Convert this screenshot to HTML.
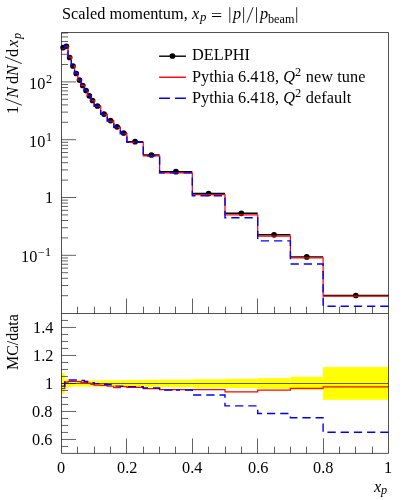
<!DOCTYPE html>
<html><head><meta charset="utf-8"><title>Scaled momentum</title>
<style>
html,body{margin:0;padding:0;background:#fff;}
body{width:406px;height:500px;position:relative;overflow:hidden;font-family:"Liberation Serif",serif;color:#000;}
.t{will-change:transform;position:absolute;white-space:nowrap;font-size:16.3px;line-height:1;}
.i{font-style:italic;}
sub.s,sup.s{font-size:12.3px;margin-right:0.5px;line-height:0;position:relative;vertical-align:baseline;}
sub.s{top:2.4px;} sup.s{top:-5.8px;}
.e{font-size:12.2px;}
.r{text-align:right;}
.rot{transform-origin:0 0;transform:rotate(-90deg);}
</style></head><body>
<svg width="406" height="500" viewBox="0 0 406 500" style="position:absolute;left:0;top:0">
<rect x="0" y="0" width="406" height="500" fill="#fff"/>
<rect x="61.5" y="372.95" width="3.27" height="21" fill="#ffff00"/>
<rect x="64.77" y="379.25" width="3.27" height="8.4" fill="#ffff00"/>
<rect x="68.04" y="379.95" width="3.27" height="7" fill="#ffff00"/>
<rect x="71.31" y="380.23" width="3.27" height="6.44" fill="#ffff00"/>
<rect x="74.58" y="380.37" width="3.27" height="6.16" fill="#ffff00"/>
<rect x="77.85" y="380.37" width="3.27" height="6.16" fill="#ffff00"/>
<rect x="81.12" y="380.37" width="3.27" height="6.16" fill="#ffff00"/>
<rect x="84.39" y="380.37" width="3.27" height="6.16" fill="#ffff00"/>
<rect x="87.66" y="380.37" width="3.27" height="6.16" fill="#ffff00"/>
<rect x="90.93" y="380.37" width="3.27" height="6.16" fill="#ffff00"/>
<rect x="94.2" y="380.37" width="6.54" height="6.16" fill="#ffff00"/>
<rect x="100.74" y="380.23" width="6.54" height="6.44" fill="#ffff00"/>
<rect x="107.28" y="380.23" width="6.54" height="6.44" fill="#ffff00"/>
<rect x="113.82" y="380.23" width="6.54" height="6.44" fill="#ffff00"/>
<rect x="120.36" y="380.09" width="6.54" height="6.72" fill="#ffff00"/>
<rect x="126.9" y="379.95" width="16.35" height="7" fill="#ffff00"/>
<rect x="143.25" y="379.81" width="16.35" height="7.28" fill="#ffff00"/>
<rect x="159.6" y="379.67" width="32.7" height="7.56" fill="#ffff00"/>
<rect x="192.3" y="379.25" width="32.7" height="8.4" fill="#ffff00"/>
<rect x="225" y="378.83" width="32.7" height="9.24" fill="#ffff00"/>
<rect x="257.7" y="378.13" width="32.7" height="10.64" fill="#ffff00"/>
<rect x="290.4" y="376.87" width="32.7" height="13.16" fill="#ffff00"/>
<rect x="323.1" y="367.07" width="65.4" height="32.76" fill="#ffff00"/>
<line x1="61.5" y1="383.5" x2="388.5" y2="383.5" stroke="#000" stroke-width="0.62"/>
<path d="M77.5 313.5 V306.7 M94.5 313.5 V306.7 M110.5 313.5 V306.7 M126.5 313.5 V298.5 M143.5 313.5 V306.7 M159.5 313.5 V306.7 M175.5 313.5 V306.7 M192.5 313.5 V298.5 M208.5 313.5 V306.7 M225.5 313.5 V306.7 M241.5 313.5 V306.7 M257.5 313.5 V298.5 M274.5 313.5 V306.7 M290.5 313.5 V306.7 M306.5 313.5 V306.7 M323.5 313.5 V298.5 M339.5 313.5 V306.7 M355.5 313.5 V306.7 M372.5 313.5 V306.7 M77.5 453.4 V446.6 M94.5 453.4 V446.6 M110.5 453.4 V446.6 M126.5 453.4 V438.4 M143.5 453.4 V446.6 M159.5 453.4 V446.6 M175.5 453.4 V446.6 M192.5 453.4 V438.4 M208.5 453.4 V446.6 M225.5 453.4 V446.6 M241.5 453.4 V446.6 M257.5 453.4 V438.4 M274.5 453.4 V446.6 M290.5 453.4 V446.6 M306.5 453.4 V446.6 M323.5 453.4 V438.4 M339.5 453.4 V446.6 M355.5 453.4 V446.6 M372.5 453.4 V446.6 M61.5 295.7 H68 M61.5 285.52 H68 M61.5 278.3 H68 M61.5 272.7 H68 M61.5 268.12 H68 M61.5 264.25 H68 M61.5 260.9 H68 M61.5 257.94 H68 M61.5 255.3 H76 M61.5 237.9 H68 M61.5 227.72 H68 M61.5 220.5 H68 M61.5 214.9 H68 M61.5 210.32 H68 M61.5 206.45 H68 M61.5 203.1 H68 M61.5 200.14 H68 M61.5 197.5 H76 M61.5 180.1 H68 M61.5 169.92 H68 M61.5 162.7 H68 M61.5 157.1 H68 M61.5 152.52 H68 M61.5 148.65 H68 M61.5 145.3 H68 M61.5 142.34 H68 M61.5 139.7 H76 M61.5 122.3 H68 M61.5 112.12 H68 M61.5 104.9 H68 M61.5 99.3 H68 M61.5 94.72 H68 M61.5 90.85 H68 M61.5 87.5 H68 M61.5 84.54 H68 M61.5 81.9 H76 M61.5 64.5 H68 M61.5 54.32 H68 M61.5 47.1 H68 M61.5 41.5 H68 M61.5 36.92 H68 M61.5 33.05 H68 M61.5 446.45 H68 M61.5 439.45 H76 M61.5 432.45 H68 M61.5 425.45 H68 M61.5 418.45 H68 M61.5 411.45 H76 M61.5 404.45 H68 M61.5 397.45 H68 M61.5 390.45 H68 M61.5 383.45 H76 M61.5 376.45 H68 M61.5 369.45 H68 M61.5 362.45 H68 M61.5 355.45 H76 M61.5 348.45 H68 M61.5 341.45 H68 M61.5 334.45 H68 M61.5 327.45 H76 M61.5 320.45 H68" stroke="#000" stroke-width="0.62" fill="none"/>
<path d="M61.5 47.6 H64.77 M64.77 46.3 H68.04 M68.04 57.5 H71.31 M71.31 66 H74.58 M74.58 73.5 H77.85 M77.85 80.1 H81.12 M81.12 85.5 H84.39 M84.39 90.6 H87.66 M87.66 95.8 H90.93 M90.93 100.5 H94.2 M94.2 106 H100.74 M100.74 114.1 H107.28 M107.28 120.6 H113.82 M113.82 126.8 H120.36 M120.36 133 H126.9 M126.9 141.7 H143.25 M143.25 155 H159.6 M159.6 171.7 H192.3 M192.3 193.5 H225 M225 213.3 H257.7 M257.7 234.8 H290.4 M290.4 256.9 H323.1 M323.1 295.5 H388.5" stroke="#000" stroke-width="1.4" fill="none"/>
<circle cx="63.13" cy="47.6" r="2.85" fill="#000"/>
<circle cx="66.41" cy="46.3" r="2.85" fill="#000"/>
<circle cx="69.67" cy="57.5" r="2.85" fill="#000"/>
<circle cx="72.94" cy="66" r="2.85" fill="#000"/>
<circle cx="76.22" cy="73.5" r="2.85" fill="#000"/>
<circle cx="79.48" cy="80.1" r="2.85" fill="#000"/>
<circle cx="82.75" cy="85.5" r="2.85" fill="#000"/>
<circle cx="86.03" cy="90.6" r="2.85" fill="#000"/>
<circle cx="89.3" cy="95.8" r="2.85" fill="#000"/>
<circle cx="92.56" cy="100.5" r="2.85" fill="#000"/>
<circle cx="97.47" cy="106" r="2.85" fill="#000"/>
<circle cx="104.01" cy="114.1" r="2.85" fill="#000"/>
<circle cx="110.55" cy="120.6" r="2.85" fill="#000"/>
<circle cx="117.09" cy="126.8" r="2.85" fill="#000"/>
<circle cx="123.63" cy="133" r="2.85" fill="#000"/>
<circle cx="135.07" cy="141.7" r="2.85" fill="#000"/>
<circle cx="151.43" cy="155" r="2.85" fill="#000"/>
<circle cx="175.95" cy="171.7" r="2.85" fill="#000"/>
<circle cx="208.65" cy="193.5" r="2.85" fill="#000"/>
<circle cx="241.35" cy="213.3" r="2.85" fill="#000"/>
<circle cx="274.05" cy="234.8" r="2.85" fill="#000"/>
<circle cx="306.75" cy="256.9" r="2.85" fill="#000"/>
<circle cx="355.8" cy="295.5" r="2.85" fill="#000"/>
<path d="M61.5 48.52 L64.77 48.52 L64.77 46.05 L68.04 46.05 L68.04 57.15 L71.31 57.15 L71.31 65.65 L74.58 65.65 L74.58 73.15 L77.85 73.15 L77.85 79.78 L81.12 79.78 L81.12 85.32 L84.39 85.32 L84.39 90.45 L87.66 90.45 L87.66 95.75 L90.93 95.75 L90.93 100.69 L94.2 100.69 L94.2 106.29 L100.74 106.29 L100.74 114.45 L107.28 114.45 L107.28 121.11 L113.82 121.11 L113.82 127.56 L120.36 127.56 L120.36 133.57 L126.9 133.57 L126.9 142.41 L143.25 142.41 L143.25 155.95 L159.6 155.95 L159.6 172.83 L192.3 172.83 L192.3 194.63 L225 194.63 L225 214.85 L257.7 214.85 L257.7 236.03 L290.4 236.03 L290.4 257.79 L323.1 257.79 L323.1 296.11 L388.5 296.11" stroke="#ff0000" stroke-width="1.22" fill="none" stroke-linejoin="miter"/>
<path d="M61.5 48.08 L64.77 48.08 L64.77 45.8 L68.04 45.8 L68.04 56.89 L71.31 56.89 L71.31 65.39 L74.58 65.39 L74.58 72.89 L77.85 72.89 L77.85 79.5 L81.12 79.5 L81.12 84.95 L84.39 84.95 L84.39 90.23 L87.66 90.23 L87.66 95.55 L90.93 95.55 L90.93 100.35 L94.2 100.35 L94.2 106.04 L100.74 106.04 L100.74 114.25 L107.28 114.25 L107.28 120.83 L113.82 120.83 L113.82 127.28 L120.36 127.28 L120.36 133.51 L126.9 133.51 L126.9 142.28 L143.25 142.28 L143.25 155.84 L159.6 155.84 L159.6 172.91 L175.95 172.91" stroke="#0000ff" stroke-width="1.4" fill="none" stroke-dasharray="8.25 4.95"/>
<path d="M388.5 306.28 L323.1 306.28 L323.1 263.95 L290.4 263.95 L290.4 240.88 L257.7 240.88 L257.7 217.68 L225 217.68 L225 195.68 L192.3 195.68 L192.3 172.91 L175.95 172.91" stroke="#0000ff" stroke-width="1.4" fill="none" stroke-dasharray="8.25 4.95"/>
<path d="M61.5 388.49 L64.77 388.49 L64.77 382.05 L68.04 382.05 L68.04 381.49 L71.31 381.49 L71.31 381.49 L74.58 381.49 L74.58 381.49 L77.85 381.49 L77.85 381.63 L81.12 381.63 L81.12 382.47 L84.39 382.47 L84.39 382.61 L87.66 382.61 L87.66 383.17 L90.93 383.17 L90.93 384.5 L94.2 384.5 L94.2 385.06 L100.74 385.06 L100.74 385.41 L107.28 385.41 L107.28 386.25 L113.82 386.25 L113.82 387.65 L120.36 387.65 L120.36 386.6 L126.9 386.6 L126.9 387.37 L143.25 387.37 L143.25 388.63 L159.6 388.63 L159.6 389.61 L192.3 389.61 L192.3 389.61 L225 389.61 L225 391.85 L257.7 391.85 L257.7 390.17 L290.4 390.17 L290.4 388.35 L323.1 388.35 L323.1 386.81 L388.5 386.81" stroke="#ff0000" stroke-width="1.22" fill="none"/>
<path d="M61.5 386.11 L64.77 386.11 L64.77 380.65 L68.04 380.65 L68.04 380.02 L71.31 380.02 L71.31 380.02 L74.58 380.02 L74.58 380.02 L77.85 380.02 L77.85 380.09 L81.12 380.09 L81.12 380.37 L84.39 380.37 L84.39 381.35 L87.66 381.35 L87.66 382.05 L90.93 382.05 L90.93 382.61 L94.2 382.61 L94.2 383.66 L100.74 383.66 L100.74 384.29 L107.28 384.29 L107.28 384.71 L113.82 384.71 L113.82 386.11 L120.36 386.11 L120.36 386.25 L126.9 386.25 L126.9 386.67 L143.25 386.67 L143.25 388.07 L159.6 388.07 L159.6 390.03 L175.95 390.03" stroke="#0000ff" stroke-width="1.4" fill="none" stroke-dasharray="8.25 4.95"/>
<path d="M388.5 432.31 L323.1 432.31 L323.1 417.75 L290.4 417.75 L290.4 413.55 L257.7 413.55 L257.7 405.85 L225 405.85 L225 395.07 L192.3 395.07 L192.3 390.03 L175.95 390.03" stroke="#0000ff" stroke-width="1.4" fill="none" stroke-dasharray="8.25 4.95"/>
<path d="M61.5 32.5 H388.5 V453.4 H61.5 Z M61.5 313.5 H388.5" stroke="#000" stroke-width="0.68" fill="none"/>
<line x1="159.1" y1="56.2" x2="185.9" y2="56.2" stroke="#000" stroke-width="1.4"/>
<circle cx="172.45" cy="56.0" r="2.85" fill="#000"/>
<line x1="159.1" y1="77.25" x2="185.9" y2="77.25" stroke="#ff0000" stroke-width="1.4"/>
<line x1="159.1" y1="98.25" x2="185.9" y2="98.25" stroke="#0000ff" stroke-width="1.4" stroke-dasharray="10.85 5.1"/>
<line x1="229.8" y1="7.2" x2="229.8" y2="22.8" stroke="#000" stroke-width="0.8"/>
<line x1="243.6" y1="7.2" x2="243.6" y2="22.8" stroke="#000" stroke-width="0.8"/>
<line x1="256.5" y1="7.2" x2="256.5" y2="22.8" stroke="#000" stroke-width="0.8"/>
<line x1="296.7" y1="7.2" x2="296.7" y2="22.8" stroke="#000" stroke-width="0.8"/>
<line x1="247" y1="22.6" x2="253.1" y2="7.2" stroke="#000" stroke-width="0.85"/>
<line x1="21.9" y1="105.3" x2="5.2" y2="98.8" stroke="#000" stroke-width="0.85"/>
<line x1="21.7" y1="63.6" x2="5.0" y2="56.9" stroke="#000" stroke-width="0.85"/>
</svg>
<div class="t" id="t1" style="left:62.2px;top:5.6px;">Scaled momentum,</div>
<div class="t i" id="t2" style="left:192.1px;top:5.6px;">x</div>
<div class="t i" id="t3" style="font-size:12.8px;left:199.6px;top:11.2px;">p</div>
<div class="t" id="t4" style="left:211.3px;top:8.3px;transform:scaleX(1.22);transform-origin:0 0;">=</div>
<div class="t i" id="t5" style="left:232.6px;top:5.6px;">p</div>
<div class="t i" id="t6" style="left:260.2px;top:5.6px;">p</div>
<div class="t" id="t7" style="font-size:12.2px;left:268.2px;top:12.6px;">beam</div>
<div class="t" id="lg1" style="left:192.3px;top:47.3px;">DELPHI</div>
<div class="t" id="lg2" style="left:192.3px;top:68.5px;letter-spacing:0.05px;">Pythia 6.418, <span class="i">Q</span><sup class="s">2</sup> new tune</div>
<div class="t" id="lg3" style="left:192.3px;top:89.6px;letter-spacing:0.05px;">Pythia 6.418, <span class="i">Q</span><sup class="s">2</sup> default</div>
<div class="t" id="y2" style="left:29.0px;top:76.15px;">10</div>
<div class="t e" id="y2e" style="left:46.1px;top:72.9px;">2</div>
<div class="t" id="y1" style="left:29.0px;top:133.85px;">10</div>
<div class="t e" id="y1e" style="left:46.3px;top:130.6px;">1</div>
<div class="t" id="y0" style="left:44.9px;top:189.7px;">1</div>
<div class="t" id="ym1" style="left:20.9px;top:249.0px;">10</div>
<div class="t e" id="ym1m" style="left:37.8px;top:247.0px;">&minus;</div>
<div class="t e" id="ym1e" style="left:45.2px;top:246.0px;">1</div>
<div class="t" id="r14" style="left:32.75px;top:320.10px;">1.4</div>
<div class="t" id="r12" style="left:33.0px;top:348.10px;">1.2</div>
<div class="t" id="r10" style="left:45.0px;top:376.10px;">1</div>
<div class="t" id="r08" style="left:32.3px;top:404.10px;">0.8</div>
<div class="t" id="r06" style="left:32.3px;top:432.10px;">0.6</div>
<div class="t" id="x0" style="left:57.1px;top:459.5px;">0</div>
<div class="t" id="x2" style="left:116.6px;top:459.5px;">0.2</div>
<div class="t" id="x4" style="left:181.6px;top:459.5px;">0.4</div>
<div class="t" id="x6" style="left:247.6px;top:459.5px;">0.6</div>
<div class="t" id="x8" style="left:312.6px;top:459.5px;">0.8</div>
<div class="t" id="x10" style="left:383.8px;top:459.5px;">1</div>
<div class="t i" id="xl" style="left:373.5px;top:479.2px;">x</div>
<div class="t i e" id="xlp" style="left:381.4px;top:484.1px;">p</div>
<div class="t rot" id="yl1" style="left:4.7px;top:114.1px;">1</div>
<div class="t rot i" id="yl2" style="left:4.7px;top:98.0px;">N</div>
<div class="t rot" id="yl3" style="left:4.7px;top:84.4px;">d</div>
<div class="t rot i" id="yl4" style="left:4.7px;top:76.0px;">N</div>
<div class="t rot" id="yl5" style="left:4.7px;top:56.7px;">d</div>
<div class="t rot i" id="yl6" style="left:4.7px;top:47.4px;">x</div>
<div class="t rot i" id="yl7" style="font-size:12.2px;left:10.8px;top:39.0px;">p</div>
<div class="t rot" id="rl" style="font-size:15.95px;left:4.8px;top:369.8px;">MC/data</div>
</body></html>
